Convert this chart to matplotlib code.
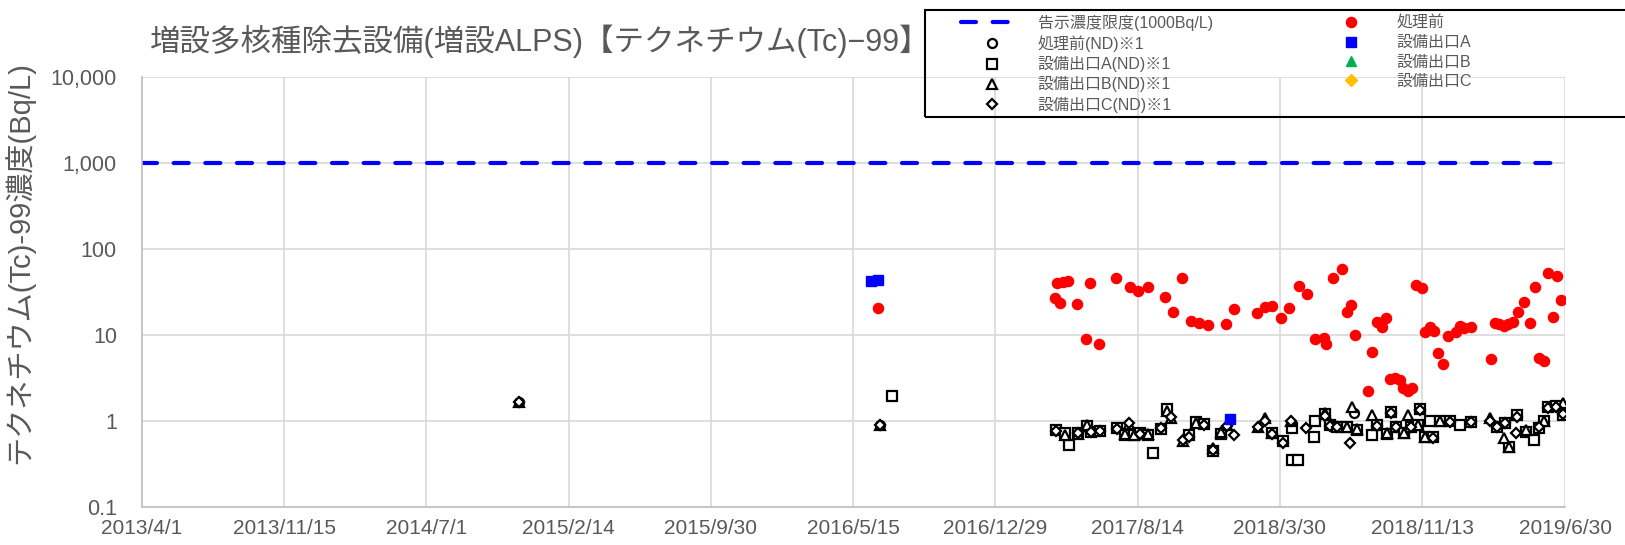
import datetime as dt
import matplotlib
matplotlib.use("Agg")
import matplotlib.pyplot as plt
from matplotlib.patches import Rectangle

plt.rcParams['font.family'] = ['Liberation Sans Narrow', 'Liberation Sans', 'Noto Sans CJK JP']
GRAY = '#595959'

def d(s):
    return dt.datetime.strptime(s, '%Y-%m-%d')

# ---- data ----
limit_value = 1000

pre_dates = ['2016-06-23', '2017-04-04', '2017-04-07', '2017-04-12', '2017-04-17', '2017-04-25',
             '2017-05-09', '2017-05-23', '2017-05-30', '2017-06-13', '2017-07-11', '2017-08-02',
             '2017-08-15', '2017-08-30', '2017-09-27', '2017-10-10', '2017-10-24', '2017-11-07',
             '2017-11-20', '2017-12-05', '2018-01-03', '2018-01-16', '2018-02-21', '2018-03-06',
             '2018-03-17', '2018-03-31', '2018-04-14', '2018-04-30', '2018-05-13', '2018-05-26',
             '2018-06-09', '2018-06-12', '2018-06-23', '2018-07-07', '2018-07-15', '2018-07-22',
             '2018-07-29', '2018-08-19', '2018-08-25', '2018-09-01', '2018-09-09', '2018-09-16',
             '2018-09-23', '2018-10-01', '2018-10-08', '2018-10-13', '2018-10-21', '2018-10-28',
             '2018-11-03', '2018-11-13', '2018-11-18', '2018-11-26', '2018-12-02', '2018-12-08',
             '2018-12-16', '2018-12-24', '2019-01-07', '2019-01-12', '2019-01-19', '2019-01-31',
             '2019-03-04', '2019-03-10', '2019-03-16', '2019-03-24', '2019-03-31', '2019-04-08',
             '2019-04-15', '2019-04-26', '2019-05-05', '2019-05-13', '2019-05-19', '2019-05-27',
             '2019-06-02', '2019-06-11', '2019-06-17', '2019-06-23']
pre_vals = [20.4, 26.9, 40.3, 23.6, 41.3, 42.4,
            22.9, 9.0, 40.3, 7.9, 46.4, 36.1,
            32.5, 36.5, 27.4, 18.7, 46.4, 14.7,
            13.9, 13.1, 13.4, 19.9, 17.9, 21.3,
            21.9, 15.6, 20.4, 37.1, 29.7, 9.1,
            9.3, 7.9, 45.6, 58.5, 18.4, 22.3,
            10.0, 2.23, 6.4, 14.1, 12.5, 15.9,
            3.05, 3.19, 3.0, 2.4, 2.25, 2.44,
            38.1, 35.5, 10.9, 12.5, 11.1, 6.2,
            4.6, 9.8, 10.7, 12.7, 12.0, 12.4,
            5.2, 13.7, 13.4, 12.8, 13.3, 14.3,
            18.4, 24.0, 13.7, 36.5, 5.4, 5.0,
            52.2, 16.3, 48.5, 25.5]

out_a_dates = ['2016-06-12', '2016-06-23', '2018-01-09']
out_a_vals = [42.4, 43.9, 1.05]
out_b_dates = []
out_b_vals = []
out_c_dates = []
out_c_vals = []

nd_pre_dates = ['2014-11-26', '2016-06-27', '2018-07-27']
nd_pre_vals = [1.68, 0.91, 1.25]

nd_a_dates = ['2016-07-17', '2017-04-05', '2017-04-19', '2017-04-26', '2017-05-10', '2017-05-24',
              '2017-06-01', '2017-06-14', '2017-07-12', '2017-07-25', '2017-08-08', '2017-08-18',
              '2017-08-30', '2017-09-07', '2017-09-20', '2017-09-30', '2017-11-05', '2017-11-16',
              '2017-11-29', '2017-12-13', '2017-12-26', '2018-03-18', '2018-04-04', '2018-04-18',
              '2018-04-19', '2018-04-28', '2018-05-23', '2018-05-26', '2018-06-11', '2018-06-18',
              '2018-06-29', '2018-07-15', '2018-07-31', '2018-08-25', '2018-09-02', '2018-09-18',
              '2018-09-24', '2018-10-02', '2018-10-15', '2018-10-26', '2018-11-06', '2018-11-10',
              '2018-11-17', '2018-11-25', '2018-12-01', '2018-12-11', '2018-12-28', '2019-01-12',
              '2019-01-30', '2019-03-13', '2019-03-26', '2019-04-01', '2019-04-14', '2019-04-28',
              '2019-05-12', '2019-05-19', '2019-05-27', '2019-06-02', '2019-06-16', '2019-06-27']
nd_a_vals = [1.97, 0.78, 0.72, 0.53, 0.72, 0.88,
             0.75, 0.76, 0.82, 0.69, 0.69, 0.72,
             0.69, 0.42, 0.80, 1.38, 0.69, 0.98,
             0.92, 0.45, 0.70, 0.72, 0.58, 0.82,
             0.35, 0.35, 0.66, 1.01, 1.20, 0.89,
             0.86, 0.86, 0.79, 0.69, 0.89, 0.70,
             1.28, 0.86, 0.72, 0.86, 0.89, 1.38,
             0.66, 1.01, 0.66, 1.01, 1.01, 0.89,
             0.98, 0.86, 0.94, 0.50, 1.17, 0.75,
             0.60, 0.82, 1.01, 1.45, 1.50, 1.17]

nd_b_dates = ['2014-11-26', '2016-06-27', '2017-04-19', '2017-05-10', '2017-05-24', '2017-07-25',
              '2017-07-31', '2017-08-08', '2017-08-30', '2017-09-30', '2017-10-07', '2017-10-26',
              '2017-11-16', '2017-12-13', '2017-12-26', '2018-01-04', '2018-02-23', '2018-03-06',
              '2018-03-18', '2018-04-17', '2018-06-11', '2018-07-15', '2018-07-23', '2018-07-31',
              '2018-08-25', '2018-09-18', '2018-10-15', '2018-10-21', '2018-11-06', '2018-11-17',
              '2018-12-11', '2019-03-02', '2019-03-24', '2019-04-01', '2019-04-28', '2019-05-27',
              '2019-06-27']
nd_b_vals = [1.68, 0.91, 0.68, 0.70, 0.90, 0.70,
             0.92, 0.68, 0.70, 1.30, 1.07, 0.58,
             0.95, 0.48, 0.75, 0.89, 0.86, 1.07,
             0.72, 1.01, 1.25, 0.86, 1.45, 0.80,
             1.17, 0.72, 0.72, 1.17, 0.89, 0.65,
             1.00, 1.07, 0.64, 0.50, 0.78, 1.00,
             1.60]

nd_c_dates = ['2014-11-26', '2016-06-27', '2017-04-05', '2017-05-10', '2017-06-01', '2017-06-14',
              '2017-07-12', '2017-07-31', '2017-08-18', '2017-09-20', '2017-10-07', '2017-10-26',
              '2017-11-05', '2017-11-29', '2017-12-13', '2018-01-04', '2018-01-16', '2018-02-23',
              '2018-03-06', '2018-03-18', '2018-04-04', '2018-04-17', '2018-05-11', '2018-06-11',
              '2018-06-18', '2018-06-29', '2018-07-20', '2018-09-02', '2018-09-24', '2018-10-02',
              '2018-10-26', '2018-11-10', '2018-12-01', '2018-12-28', '2019-01-30', '2019-03-02',
              '2019-03-13', '2019-03-26', '2019-04-12', '2019-04-14', '2019-05-19', '2019-06-02',
              '2019-06-16', '2019-06-27']
nd_c_vals = [1.68, 0.91, 0.76, 0.72, 0.75, 0.76,
             0.80, 0.95, 0.70, 0.82, 1.10, 0.60,
             0.65, 0.90, 0.46, 0.88, 0.69, 0.85,
             1.00, 0.70, 0.56, 1.00, 0.82, 1.15,
             0.88, 0.85, 0.55, 0.87, 1.25, 0.85,
             0.86, 1.35, 0.64, 0.98, 0.98, 1.00,
             0.85, 0.95, 0.72, 1.10, 0.85, 1.40,
             1.45, 1.20]

x_ticks = ['2013-04-01', '2013-11-15', '2014-07-01', '2015-02-14', '2015-09-30', '2016-05-15',
           '2016-12-29', '2017-08-14', '2018-03-30', '2018-11-13', '2019-06-30']
y_ticks = [0.1, 1, 10, 100, 1000, 10000]
y_ticklabels = ['0.1', '1', '10', '100', '1,000', '10,000']

title = '増設多核種除去設備(増設ALPS)【テクネチウム(Tc)−99】'
ylabel = 'テクネチウム(Tc)-99濃度(Bq/L)'

# ---- figure ----
W, H = 1625, 545
fig = plt.figure(figsize=(W / 100, H / 100), dpi=100)
ax = fig.add_axes([142 / W, 38 / H, 1423 / W, 430 / H])

lim = ax.axhline(limit_value, color='#0000FF', lw=3, dashes=(3.6, 4.0),
                 dash_capstyle='round', label='告示濃度限度(1000Bq/L)', zorder=2)

nd_kw = dict(ls='none', mfc='white', mec='black', mew=1.6, ms=6.5, zorder=3)
h_nd_pre, = ax.plot([d(s) for s in nd_pre_dates], nd_pre_vals, marker='o',
                    label='処理前(ND)※1', **nd_kw)
h_nd_a, = ax.plot([d(s) for s in nd_a_dates], nd_a_vals, marker='s',
                  label='設備出口A(ND)※1', **nd_kw)
h_nd_b, = ax.plot([d(s) for s in nd_b_dates], nd_b_vals, marker='^',
                  label='設備出口B(ND)※1', **nd_kw)
h_nd_c, = ax.plot([d(s) for s in nd_c_dates], nd_c_vals, marker='D',
                  label='設備出口C(ND)※1', **dict(nd_kw, ms=5.2))

h_pre, = ax.plot([d(s) for s in pre_dates], pre_vals, ls='none', marker='o', ms=7.3,
                 color='#FF0000', mec='#FF0000', label='処理前', zorder=4)
h_a, = ax.plot([d(s) for s in out_a_dates], out_a_vals, ls='none', marker='s', ms=6.8,
               color='#0000FF', label='設備出口A', zorder=5)
h_b, = ax.plot([d(s) for s in out_b_dates], out_b_vals, ls='none', marker='^', ms=7,
               color='#00B050', label='設備出口B', zorder=5)
h_c, = ax.plot([d(s) for s in out_c_dates], out_c_vals, ls='none', marker='D', ms=6,
               color='#FFC000', label='設備出口C', zorder=5)

ax.set_yscale('log')
ax.set_ylim(y_ticks[0], y_ticks[-1])
ax.set_yticks(y_ticks)
ax.set_yticklabels(y_ticklabels)
ax.yaxis.set_minor_locator(matplotlib.ticker.NullLocator())

xt = [d(s) for s in x_ticks]
ax.set_xlim(xt[0], xt[-1])
ax.set_xticks(xt)
ax.set_xticklabels([f'{t.year}/{t.month}/{t.day}' for t in xt])

ax.grid(True, color='#d9d9d9', lw=1.2)
ax.set_axisbelow(True)
for s in ['top', 'right']:
    ax.spines[s].set_visible(False)
for s in ['left', 'bottom']:
    ax.spines[s].set_color('#bfbfbf')
    ax.spines[s].set_linewidth(1.2)
ax.tick_params(length=0, labelcolor=GRAY)
ax.tick_params(axis='y', pad=18, labelsize=15.5)
ax.tick_params(axis='x', pad=9, labelsize=15)

fig.text(150 / W, 1 - 41 / H, title, fontsize=22, color=GRAY, ha='left', va='center')
fig.text(19 / W, 1 - 263 / H, ylabel, fontsize=21, color=GRAY, rotation=90,
         ha='center', va='center')

# legend box
fig.patches.append(Rectangle((925 / W, 1 - 117 / H), 800 / W, 107 / H, transform=fig.transFigure,
                             fill=False, ec='black', lw=1.5, zorder=1))
fig.legend(handles=[lim, h_nd_pre, h_nd_a, h_nd_b, h_nd_c, h_pre, h_a, h_b, h_c],
           ncol=2, loc='upper left', bbox_to_anchor=(961 / W, 1 - 15 / H), frameon=False,
           fontsize=11.5, labelcolor=GRAY, handlelength=3.9, handletextpad=0.9,
           columnspacing=6.7, labelspacing=0.26, borderpad=0, borderaxespad=0)

fig.savefig('out.png', dpi=100)
